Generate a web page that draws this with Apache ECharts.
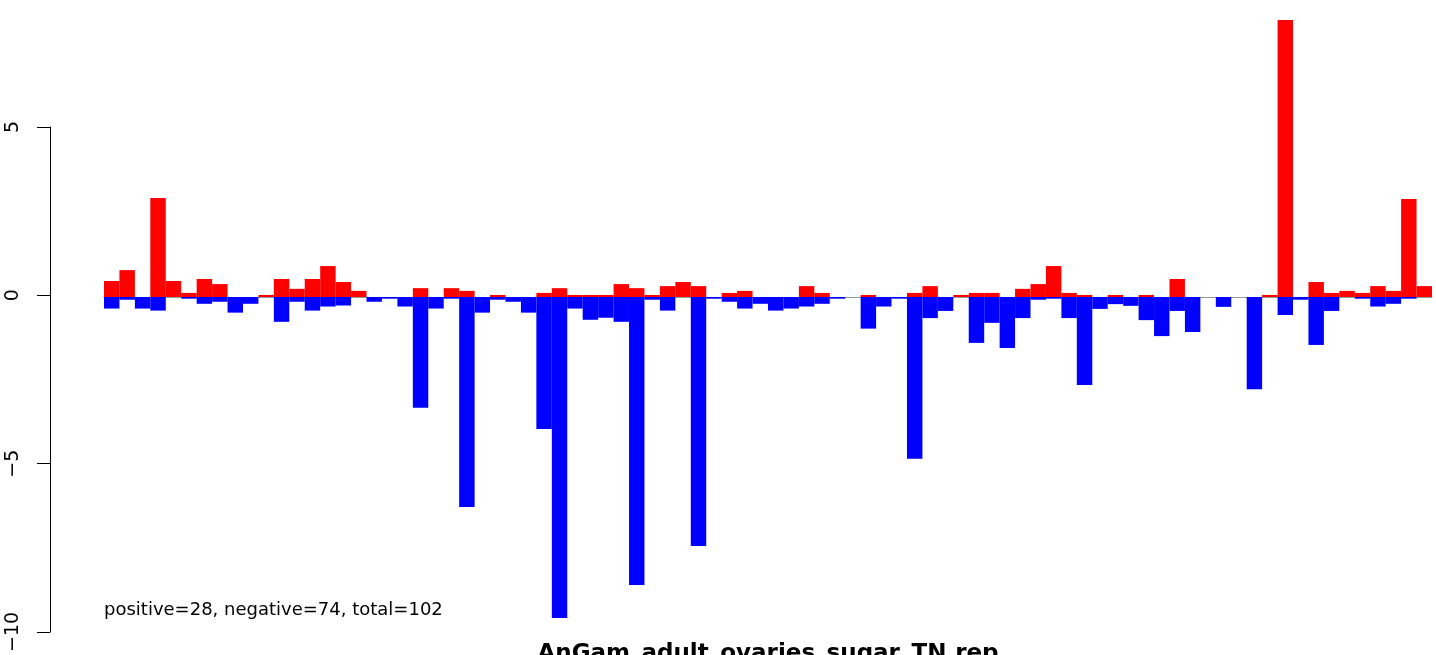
<!DOCTYPE html>
<html>
<head>
<meta charset="utf-8">
<script src="https://cdn.jsdelivr.net/npm/echarts@6/dist/echarts.min.js"></script>
<style>
html,body{margin:0;padding:0;background:#fff;}
#chart{width:1436px;height:655px;}
</style>
</head>
<body>
<div id="chart"></div>
<script>
// Positive (red) values per position
var positiveValues = [
  0.47, 0.79, 0, 2.91, 0.47, 0.12, 0.53, 0.38, 0, 0,
  0.06, 0.53, 0.24, 0.53, 0.91, 0.44, 0.18, 0, 0, 0,
  0.26, 0, 0.26, 0.18, 0, 0.06, 0, 0, 0.12, 0.26,
  0.06, 0.06, 0.06, 0.38, 0.26, 0.06, 0.32, 0.44, 0.32, 0,
  0.12, 0.18, 0, 0, 0, 0.32, 0.12, 0, 0, 0.06,
  0, 0, 0.12, 0.32, 0, 0.06, 0.12, 0.12, 0, 0.24,
  0.38, 0.91, 0.12, 0.06, 0, 0.06, 0, 0.06, 0, 0.53,
  0, 0, 0, 0, 0, 0.06, 8.15, 0, 0.44, 0.12,
  0.18, 0.12, 0.32, 0.18, 2.88, 0.32
];
// Negative (blue) values per position
var negativeValues = [
  -0.34, -0.08, -0.34, -0.40, 0, -0.05, -0.20, -0.14, -0.46, -0.20,
  0, -0.73, -0.14, -0.40, -0.28, -0.25, 0, -0.14, -0.05, -0.28,
  -3.26, -0.34, -0.05, -6.18, -0.46, -0.08, -0.14, -0.46, -3.88, -9.44,
  -0.34, -0.67, -0.61, -0.73, -8.47, -0.08, -0.40, 0, -7.32, -0.05,
  -0.14, -0.34, -0.20, -0.40, -0.34, -0.28, -0.20, -0.05, 0, -0.93,
  -0.28, -0.05, -4.76, -0.62, -0.41, 0, -1.35, -0.76, -1.50, -0.62,
  -0.08, -0.05, -0.62, -2.59, -0.35, -0.21, -0.26, -0.68, -1.15, -0.41,
  -1.03, 0, -0.29, 0, -2.71, 0, -0.53, -0.08, -1.41, -0.41,
  0, -0.05, -0.28, -0.20, -0.05, 0
];
var categories = positiveValues.map(function (v, i) { return String(i + 1); });
var yTicks = [-10, -5, 0, 5];
var titleText = 'AnGam_adult_ovaries_sugar_TN.rep';
var noteText = 'positive=28, negative=74, total=102';

var chart = echarts.init(document.getElementById('chart'), null, {renderer: 'canvas'});
var option = {
  animation: false,
  backgroundColor: '#ffffff',
  grid: [
    {left: 104, right: 4, top: 8, bottom: 18},
    {left: 50, width: 1, top: 127, bottom: 18}
  ],
  xAxis: [
    {
      type: 'category', gridIndex: 0, data: categories,
      axisLine: {show: true, onZero: true, lineStyle: {color: '#999999', width: 1}},
      axisTick: {show: false}, axisLabel: {show: false}, splitLine: {show: false}
    },
    {
      type: 'value', gridIndex: 1, show: false
    }
  ],
  yAxis: [
    {type: 'value', gridIndex: 0, min: -10, max: 8.5, show: false},
    {
      type: 'value', gridIndex: 1, min: yTicks[0], max: yTicks[yTicks.length - 1], interval: 5,
      axisLine: {show: true, lineStyle: {color: '#000000', width: 1}},
      axisTick: {show: true, length: 13, lineStyle: {color: '#000000', width: 1}},
      splitLine: {show: false},
      axisLabel: {
        rotate: 90, margin: 27, color: '#000000',
        fontFamily: 'DejaVu Sans', fontSize: 19,
        formatter: function (v) { return String(v).replace('-', '\u2212'); }
      }
    }
  ],
  series: [
    {
      type: 'bar', xAxisIndex: 0, yAxisIndex: 0, data: positiveValues,
      itemStyle: {color: '#FF0000'}, barGap: '-100%', barCategoryGap: '0%'
    },
    {
      type: 'bar', xAxisIndex: 0, yAxisIndex: 0, data: negativeValues,
      itemStyle: {color: '#0000FF'}, barGap: '-100%', barCategoryGap: '0%'
    }
  ],
  graphic: [
    {
      type: 'text', x: 104, y: 610,
      style: {text: noteText, fill: '#000000', font: '18px "DejaVu Sans"', align: 'left', verticalAlign: 'middle'}
    },
    {
      type: 'text', x: 768, y: 654,
      style: {text: titleText, fill: '#000000', font: 'bold 23px "DejaVu Sans"', align: 'center', verticalAlign: 'middle'}
    }
  ]
};
chart.setOption(option);
</script>
</body>
</html>
